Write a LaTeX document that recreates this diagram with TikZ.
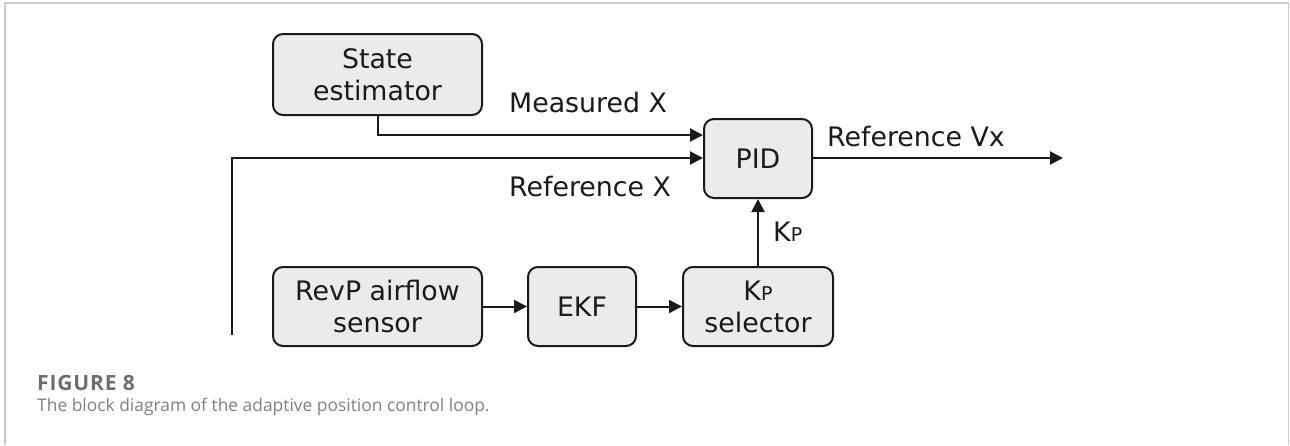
\documentclass[tikz,border=0pt]{standalone}
\usepackage{fontspec}
\setmainfont{DejaVu Sans}
\newfontfamily\capfont{Open Sans}
\newfontfamily\capbold[LetterSpace=4]{Open Sans Bold}
\usetikzlibrary{arrows.meta}
\definecolor{boxfill}{HTML}{EBEBEB}
\definecolor{ink}{HTML}{1A1A1A}
\definecolor{capgray}{HTML}{6D6E71}
\definecolor{captext}{HTML}{808080}
\definecolor{framegray}{HTML}{CCCCCC}
\newcommand{\KP}{K{\fontsize{19}{19}\selectfont P}}
\tikzset{
  blockbox/.style={draw=ink, line width=2pt, fill=boxfill, rounded corners=10pt,
    align=center, inner sep=0pt, font=\fontsize{26.8}{32}\selectfont, text=ink},
  lbl/.style={anchor=west, inner sep=0pt, font=\fontsize{26.8}{32}\selectfont, text=ink},
  conn/.style={draw=ink, line width=2pt, -{Triangle[length=13pt,width=13pt]}},
  plain/.style={draw=ink, line width=2pt},
}
\begin{document}
\begin{tikzpicture}[x=1pt,y=-1pt]
\useasboundingbox (0,0) rectangle (1290,445);
\draw[framegray, line width=1.2pt] (5,445) -- (5,3) -- (1288.5,3) -- (1288.5,445);
% blocks
\node[blockbox, minimum width=209pt, minimum height=81pt] (se) at (377.5,74.5) {State\\estimator};
\node[blockbox, minimum width=108pt, minimum height=79pt] (pid) at (758,158.5) {PID};
\node[blockbox, minimum width=209pt, minimum height=79pt] (rev) at (377.5,306.5) {RevP airflow\\sensor};
\node[blockbox, minimum width=108pt, minimum height=79pt] (ekf) at (582,306.5) {EKF};
\node[blockbox, minimum width=150pt, minimum height=79pt] (kps) at (758,306.5) {\KP\\selector};
% coordinates
\coordinate (refstart) at (232,335);
\coordinate (out) at (1063,158);
% connectors
\draw[conn] (se.south) |- (pid.west |- 0,135);
\draw[conn] (refstart) |- (pid.west |- 0,158);
\draw[conn] (pid.east |- 0,158) -- (out);
\draw[conn] (rev.east) -- (ekf.west);
\draw[conn] (ekf.east) -- (kps.west);
\draw[conn] (kps.north) -- (pid.south);
% labels
\node[lbl] (lmeas) at (509,103) {Measured X};
\node[lbl] (lref) at (509,187) {Reference X};
\node[lbl] (lvx) at (827,137) {Reference Vx};
\node[lbl] (lkp) at (773,232) {\KP};
% caption
\node[anchor=west, inner sep=0pt, text=capgray, font=\capbold\fontsize{21}{24}\selectfont] (fig) at (37,383) {FIGURE 8};
\node[anchor=west, inner sep=0pt, text=captext, font=\capfont\fontsize{17.4}{22}\selectfont] (cap) at (37,407) {The block diagram of the adaptive position control loop.};
\end{tikzpicture}
\end{document}
